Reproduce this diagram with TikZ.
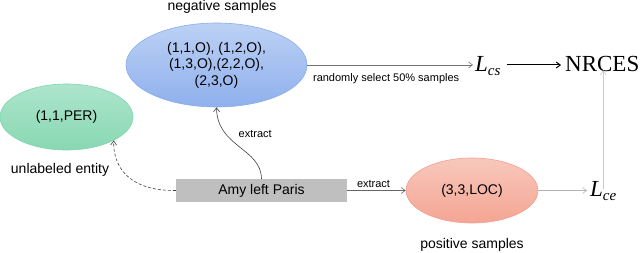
\documentclass[tikz,border=0pt]{standalone}
\usepackage{fontspec}
\setmainfont{Liberation Sans}
\newfontfamily\tnr{Liberation Serif}
\usetikzlibrary{shapes.geometric,arrows.meta}
\definecolor{bluetop}{HTML}{BCD1F4}
\definecolor{bluebot}{HTML}{8FB0EE}
\definecolor{blueedge}{HTML}{8AACEC}
\definecolor{greentop}{HTML}{ADE5CC}
\definecolor{greenbot}{HTML}{88D8B2}
\definecolor{greenedge}{HTML}{7ED6AE}
\definecolor{pinktop}{HTML}{F8C8BC}
\definecolor{pinkbot}{HTML}{F4A593}
\definecolor{pinkedge}{HTML}{F2A090}
\definecolor{boxgray}{HTML}{BFBFBF}
\tikzset{
  ell/.style={ellipse, inner sep=0pt, font=\fontsize{14}{16.5}\selectfont, align=center, line width=0.6pt},
  lbl/.style={font=\fontsize{14}{16}\selectfont, inner sep=0pt},
  small/.style={font=\fontsize{11}{12}\selectfont, inner sep=0pt},
  conn/.style={-{Straight Barb[length=4pt,width=6pt]}, line width=0.6pt},
  big/.style={font=\tnr\fontsize{23}{25}\selectfont, inner sep=0pt, anchor=base west},
}
\newcommand{\Lsub}[1]{\itshape L\raisebox{-4pt}{\fontsize{15}{15}\selectfont #1}}
\begin{document}
\begin{tikzpicture}[x=1pt,y=-1pt]
\useasboundingbox (0,0) rectangle (640,253);
% nodes
\node[ell, minimum width=181pt, minimum height=84pt, draw=blueedge, top color=bluetop, bottom color=bluebot] (neg) at (216.5,65) {(1,1,O), (1,2,O),\\(1,3,O),(2,2,O),\\(2,3,O)};
\node[lbl] (neglbl) at (222,7) {negative samples};
\node[ell, minimum width=133pt, minimum height=66pt, draw=greenedge, top color=greentop, bottom color=greenbot] (unl) at (66.5,117) {(1,1,PER)};
\node[lbl] (unllbl) at (60,170) {unlabeled entity};
\node[fill=boxgray, minimum width=171pt, minimum height=23pt, inner sep=0pt, font=\fontsize{14}{16}\selectfont] (sent) at (261.5,190.5) {Amy left Paris};
\node[ell, minimum width=132pt, minimum height=65pt, draw=pinkedge, top color=pinktop, bottom color=pinkbot] (pos) at (472,190.5) {(3,3,LOC)};
\node[lbl] (poslbl) at (472,245) {positive samples};
\node[big] (Lcs) at (475,72) {\Lsub{cs}};
\node[big] (nrces) at (565,72) {NRCES};
\node[big] (Lce) at (590,197) {\Lsub{ce}};
% connectors
\draw[conn, color=black!55] (neg.east) -- ([xshift=-2pt]neg.east -| Lcs.west)
  node[small, pos=0.5, below=8pt, xshift=-4pt, text=black] {randomly select 50\% samples};
\draw[conn, color=black, line width=1pt] ([xshift=6pt]Lcs.east |- neg.east) -- ([xshift=-4pt]nrces.west |- neg.east);
\draw[conn, color=black!60] (sent.east) -- (pos.west)
  node[small, pos=0.45, above=3pt, text=black] {extract};
\draw[conn, color=black!30] (pos.east) -- ([xshift=-3pt]pos.east -| Lce.west);
\draw[conn, color=black!20] ([yshift=-7pt]Lce.north) -- ([yshift=2pt]Lce.north |- nrces.south);
\draw[conn, color=black!75] (sent.north) .. controls (261,148) and (217,147) .. (neg.south)
  node[small, pos=0.6, anchor=south west, xshift=6pt, yshift=3pt, text=black] {extract};
\draw[conn, color=black!75, dash pattern=on 3pt off 2pt] (sent.west) .. controls (128,191) and (113,166) .. (unl.south east);
\end{tikzpicture}
\end{document}
